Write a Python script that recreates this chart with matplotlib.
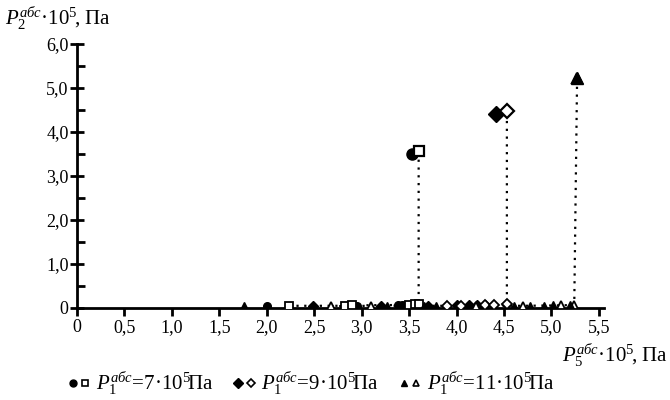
import matplotlib
matplotlib.use("Agg")
import numpy as np
from matplotlib import pyplot as plt
from matplotlib.legend_handler import HandlerTuple

plt.rcParams["font.family"] = ["Liberation Serif", "DejaVu Serif"]
plt.rcParams["mathtext.fontset"] = "custom"
plt.rcParams["mathtext.rm"] = "Liberation Serif"
plt.rcParams["mathtext.it"] = "Liberation Serif:italic"
plt.rcParams["mathtext.bf"] = "Liberation Serif:bold"

# P1 = 7e5 Pa (last point = after the jump)
x7_filled = [2.0, 2.95, 3.38, 3.42, 3.46, 3.50, 3.53, 3.53]
y7_filled = [0.05, 0.05, 0.06, 0.06, 0.07, 0.07, 0.08, 3.50]
x7_open = [2.23, 2.82, 2.90, 3.50, 3.56, 3.60, 3.60]
y7_open = [0.05, 0.05, 0.06, 0.07, 0.08, 0.09, 3.57]

# P1 = 9e5 Pa
x9_filled = [2.49, 3.20, 3.70, 4.00, 4.13, 4.22, 4.30, 4.42]
y9_filled = [0.05, 0.05, 0.05, 0.06, 0.06, 0.07, 0.07, 4.41]
x9_open = [3.90, 4.05, 4.30, 4.39, 4.53, 4.53]
y9_open = [0.05, 0.05, 0.06, 0.07, 0.08, 4.48]

# P1 = 11e5 Pa
x11_filled = [1.76, 3.27, 3.66, 3.78, 4.61, 4.77, 4.92, 5.02, 5.19, 5.27]
y11_filled = [0.05, 0.05, 0.05, 0.05, 0.05, 0.05, 0.05, 0.06, 0.07, 5.23]
x11_open = [2.68, 3.10, 4.20, 4.70, 5.10, 5.24, 5.27]
y11_open = [0.04, 0.05, 0.05, 0.05, 0.06, 0.07, 5.23]

x_ticks = np.arange(0, 5.51, 0.5)
x_labels = ["0", "0,5", "1,0", "1,5", "2,0", "2,5", "3,0", "3,5", "4,0", "4,5", "5,0", "5,5"]
y_ticks = np.arange(0, 6.1, 1.0)
y_labels = ["0", "1,0", "2,0", "3,0", "4,0", "5,0", "6,0"]

legend_labels = [
    r"$P_1^{\mathit{абс}}$=7·10$^{5}\!$Па",
    r"$P_1^{\mathit{абс}}$=9·10$^{5}\!$Па",
    r"$P_1^{\mathit{абс}}$=11·10$^{5}\!$Па",
]

fig = plt.figure(figsize=(6.7, 4.0), dpi=100)
ax = fig.add_axes([0.115, 0.23, 0.786, 0.66])

series = [
    (x7_filled, y7_filled, x7_open, y7_open, "o", "s", 3.0),
    (x9_filled, y9_filled, x9_open, y9_open, "D", "D", 3.0),
    (x11_filled, y11_filled, x11_open, y11_open, "^", "^", 5.0),
]
handles = []
for xf, yf, xo, yo, mf, mo, zf in series:
    ax.plot(xo, yo, color="black", ls=(0, (1, 2.5)), lw=1.6, zorder=2)
    # points before the jump
    ax.plot(xf[:-1], yf[:-1], ls="none", marker=mf, ms=5.5, mfc="black",
            mec="black", zorder=zf)
    ax.plot(xo[:-1], yo[:-1], ls="none", marker=mo, ms=5.5, mfc="white",
            mec="black", mew=1.3, zorder=4)
    # point after the jump
    ax.plot(xf[-1:], yf[-1:], ls="none", marker=mf, ms=8, mfc="black",
            mec="black", zorder=zf)
    ax.plot(xo[-1:], yo[-1:], ls="none", marker=mo, ms=7, mfc="white",
            mec="black", mew=1.6, zorder=4)
    hf_leg, = ax.plot([], [], ls="none", marker=mf, ms=5, mfc="black", mec="black")
    ho_leg, = ax.plot([], [], ls="none", marker=mo, ms=4.5, mfc="white", mec="black", mew=1.2)
    handles.append((hf_leg, ho_leg))

ax.set_xlim(0, 5.55)
ax.set_ylim(0, 6.0)
ax.spines["top"].set_visible(False)
ax.spines["right"].set_visible(False)
ax.spines["left"].set_linewidth(2.0)
ax.spines["bottom"].set_linewidth(2.0)

ax.set_xticks(x_ticks)
ax.set_xticklabels(x_labels, fontsize=13)
ax.set_yticks(y_ticks)
ax.set_yticklabels(y_labels, fontsize=13)
ax.set_yticks(np.arange(0.5, 6.0, 1.0), minor=True)
ax.tick_params(axis="x", direction="out", length=6, width=2.0, pad=2)
ax.tick_params(axis="y", which="major", direction="inout", length=10, width=2.0, pad=1)
ax.tick_params(axis="y", which="minor", direction="in", length=6, width=2.0)

fig.text(0.007, 0.955, r"$P_2^{\mathit{абс}}$·10$^{5}\!$, Па", fontsize=15, ha="left", va="center")
fig.text(0.997, 0.112, r"$P_5^{\mathit{абс}}$·10$^{5}\!$, Па", fontsize=15, ha="right", va="center")

fig.legend(handles, legend_labels, handler_map={tuple: HandlerTuple(ndivide=None, pad=0.2)},
           loc="center", bbox_to_anchor=(0.465, 0.042), ncol=3, frameon=False,
           fontsize=15, handlelength=1.0, handletextpad=0.3, columnspacing=1.0)

fig.savefig("out.png", dpi=100)
plt.close(fig)
